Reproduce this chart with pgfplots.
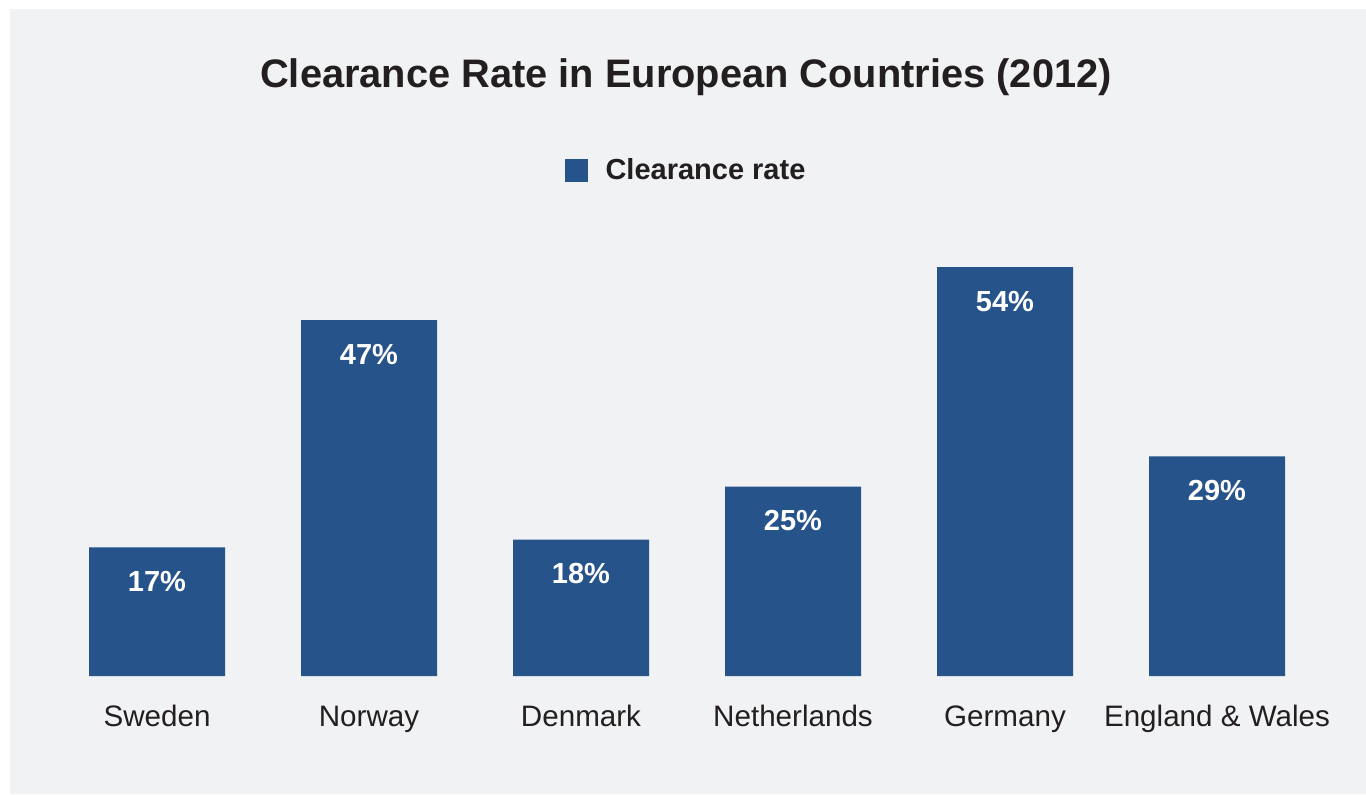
\documentclass[border=0pt]{standalone}
\usepackage{pgfplots}
\pgfplotsset{compat=1.18}
\usepackage{fontspec}
\setmainfont{Liberation Sans}
\definecolor{barblue}{HTML}{26538A}
\definecolor{bggray}{HTML}{F1F2F4}
\definecolor{txt}{HTML}{231F20}
\begin{document}
\begin{tikzpicture}
\path[use as bounding box] (0,0) rectangle (683pt,397pt);
\fill[white] (0,0) rectangle (683pt,397pt);
\fill[bggray] (5pt,0) rectangle (683pt,392.5pt);
\node[anchor=base, text=txt, font=\bfseries\fontsize{19.9}{24}\selectfont] at (343pt,353pt) {Clearance Rate in European Countries (2012)};
\begin{axis}[
  at={(78.5pt,59pt)}, anchor=origin,
  scale only axis,
  width=636pt, height=227.2pt,
  xmin=-0.5, xmax=5.5, ymin=0, ymax=60,
  ybar, bar width=68pt, bar shift=0pt,
  axis y line=none,
  axis x line*=bottom,
  x axis line style={draw=none},
  major tick length=0pt,
  xtick=data,
  xticklabels={Sweden,Norway,Denmark,Netherlands,Germany,England \& Wales},
  xticklabel style={anchor=base, yshift=-25pt, text=txt, font=\fontsize{14.8}{18}\selectfont},
  nodes near coords={\pgfmathprintnumber{\pgfplotspointmeta}\%},
  /pgf/number format/assume math mode=true,
  every node near coord/.append style={anchor=base, yshift=-22pt, text=white, font=\bfseries\fontsize{14.5}{17}\selectfont},
  legend style={draw=none, fill=none, at={(0.5,1.112)}, anchor=center, text=txt, font=\bfseries\fontsize{14.5}{17}\selectfont, inner sep=0pt, /tikz/every odd column/.append style={column sep=7pt}},
  legend image code/.code={\fill[barblue] (0pt,-5.75pt) rectangle (11.5pt,5.75pt);},
  clip=false,
]
\addplot[fill=barblue, draw=none] coordinates {(0,17) (1,47) (2,18) (3,25) (4,54) (5,29)};
\addlegendentry{Clearance rate}
\end{axis}
\end{tikzpicture}
\end{document}
